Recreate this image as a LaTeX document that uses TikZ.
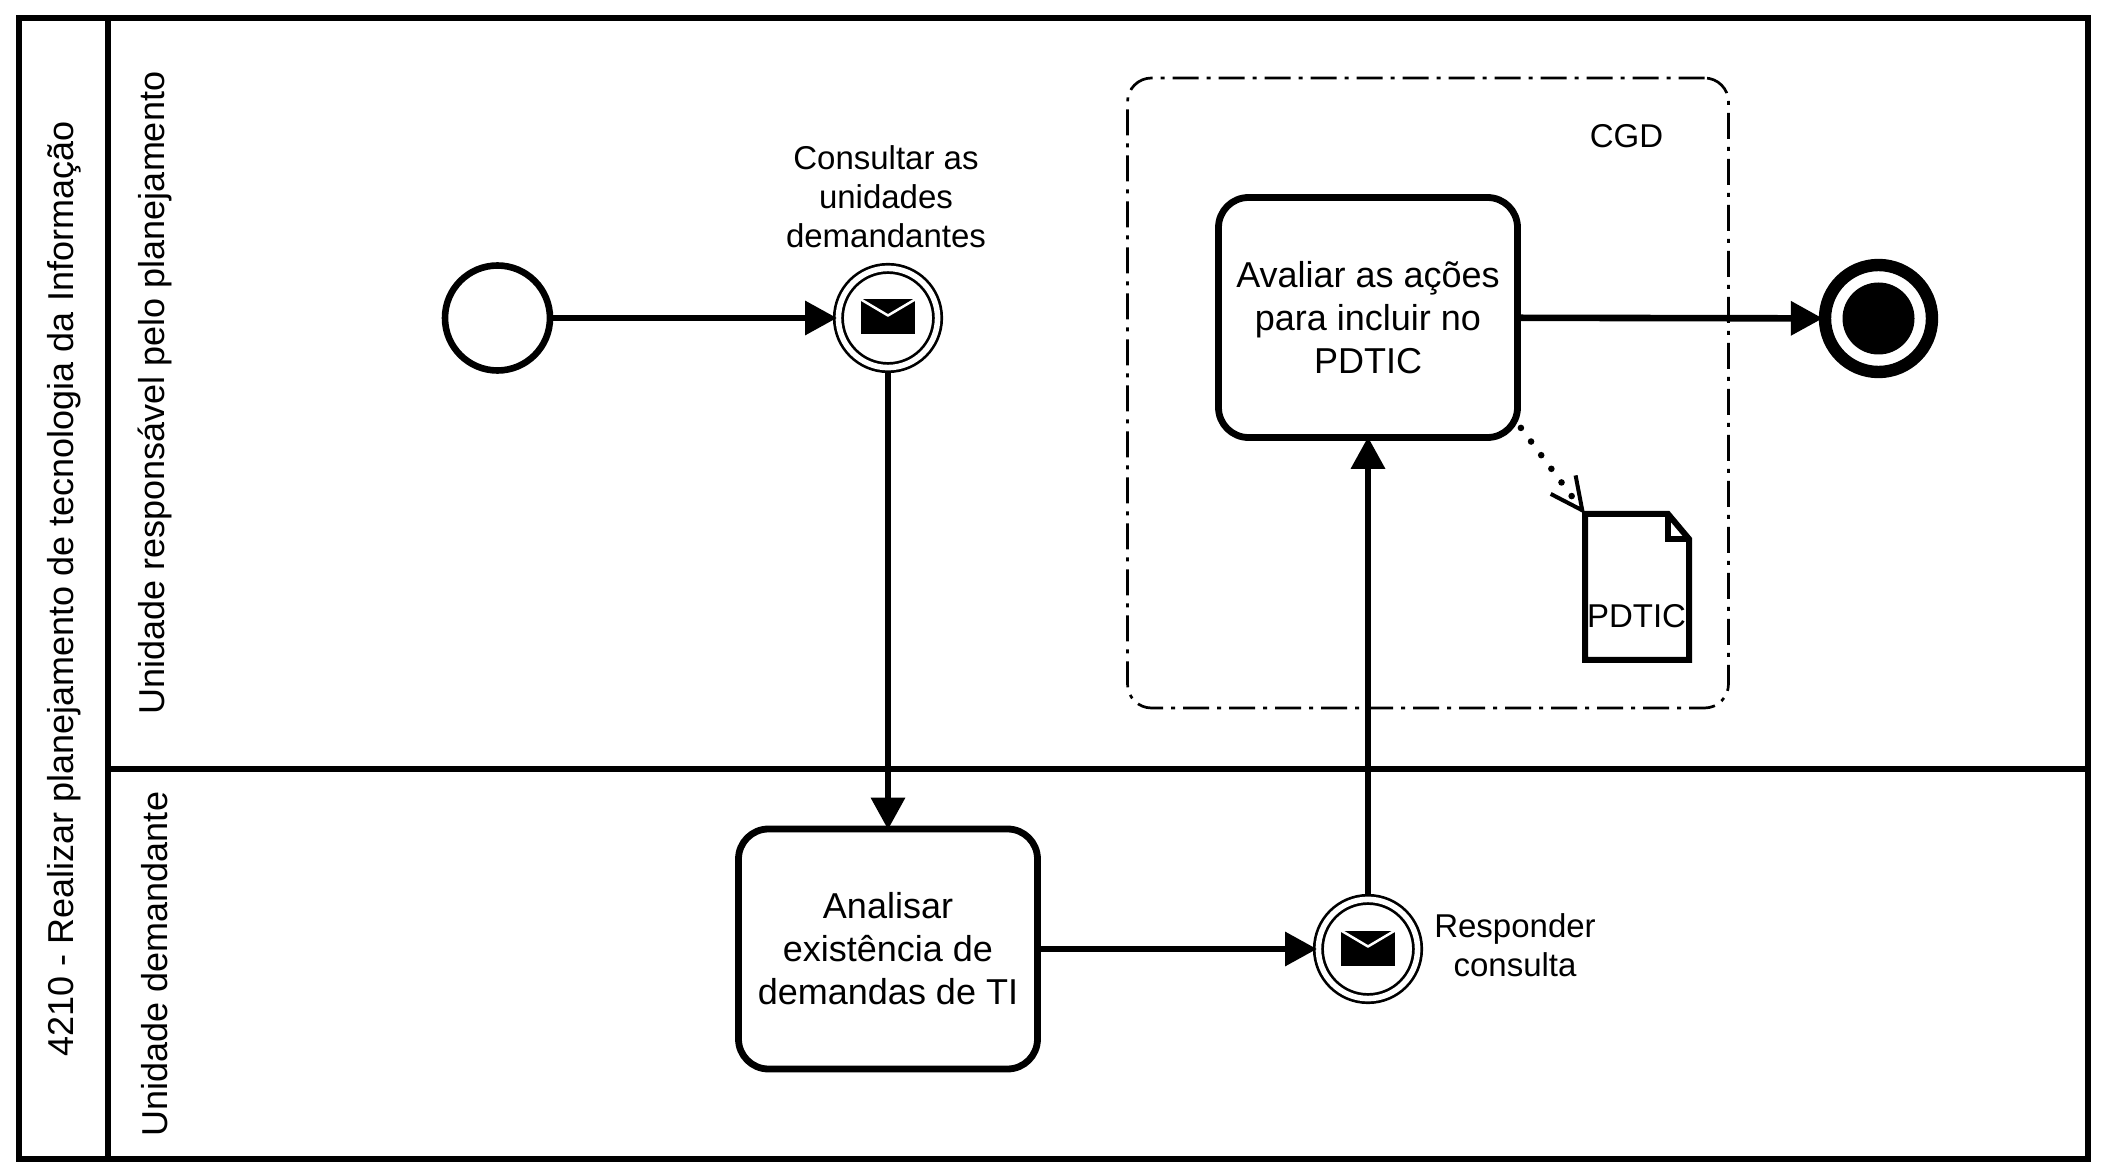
\documentclass[tikz,border=0pt]{standalone}
\usepackage{fontspec}
\setmainfont{Liberation Sans}
\usetikzlibrary{arrows.meta}

\begin{document}
\begin{tikzpicture}[x=0.5pt, y=-0.5pt, line join=round,
    poolline/.style={line width=3.3pt, line join=miter},
    lanetext/.style={rotate=90, font=\fontsize{18}{21.5}\selectfont},
    tasktext/.style={draw, fill=white, line width=3.4pt, rounded corners=15pt,
      minimum width=149.5pt, minimum height=120pt, inner sep=0pt, align=center,
      font=\fontsize{18}{21.5}\selectfont},
    smalltext/.style={inner sep=0pt, align=center, font=\fontsize{16.5}{19.5}\selectfont},
    startev/.style={draw, circle, fill=white, line width=3.3pt, minimum size=52.5pt, inner sep=0pt},
    mailev/.style={draw, circle, fill=white, line width=1.35pt, double, double distance=2.8pt,
      minimum size=49.6pt, inner sep=0pt, outer sep=2.7pt},
    endev/.style={draw, circle, fill=white, line width=6.2pt, minimum size=53.5pt, inner sep=0pt},
    mailicon/.style={fill=black, minimum width=27pt, minimum height=17.5pt, inner sep=0pt, outer sep=0pt},
    flow/.style={line width=3.3pt, shorten >=-2pt, -{Triangle[length=16pt, width=16.5pt]}},
    assoc/.style={line width=3.3pt, line cap=round, dash pattern=on 0pt off 8.5pt,
      -{Straight Barb[length=16pt, width=15.5pt, line width=2pt]}}]

  \useasboundingbox (0,0) rectangle (2106,1176);

  % Draw pool and lanes
  \draw[poolline] (19,18) rectangle (2088,1159);
  \draw[poolline] (108,18) -- (108,1159);
  \draw[poolline] (108,769) -- (2088,769);
  \node[lanetext] (poolname) at (64,589) {4210 - Realizar planejamento de tecnologia da Informação};
  \node[lanetext] (laneplan) at (155,393) {Unidade responsável pelo planejamento};
  \node[lanetext] (lanedem) at (155,964) {Unidade demandante};

  % Draw the CGD group
  \node[draw, line width=1.35pt, rounded corners=12pt, dash pattern=on 13pt off 4pt on 2pt off 4pt,
    minimum width=300.5pt, minimum height=315pt] (cgdbox) at (1428,393) {};
  \node[smalltext] (cgdname) at (1626.5,136.5) {CGD};

  % Draw events
  \node[startev] (inicio) at (497.5,318) {};
  \node[mailev] (consulta) at (888,318) {};
  \node[mailev] (resposta) at (1368,949) {};
  \node[endev] (fim) at (1878.5,318.5) {};
  \node[circle, fill=black, minimum size=36pt, inner sep=0pt] (fimcore) at (fim) {};

  % Mail icons
  \node[mailicon] (iconconsulta) at (888,317) {};
  \node[mailicon] (iconresposta) at (1368,948) {};
  \foreach \icon in {iconconsulta,iconresposta}
    \draw[white, line width=1.25pt] (\icon.north west) -- ([yshift=-8pt]\icon.north) -- (\icon.north east);

  % Draw tasks
  \node[tasktext] (analisar) at (888,949) {Analisar\\existência de\\demandas de TI};
  \node[tasktext] (avaliar) at (1368,317.5) {Avaliar as ações\\para incluir no\\PDTIC};

  % Draw the document
  \node[minimum width=52pt, minimum height=73pt, inner sep=0pt, outer sep=0pt] (doc) at (1637,587) {};
  \draw[line width=3pt, line join=miter, fill=white] (doc.north west) -- ([xshift=-10.5pt]doc.north east)
    -- ([yshift=-12.5pt]doc.north east) -- (doc.south east) -- (doc.south west) -- cycle;
  \draw[line width=3pt, line join=miter] ([xshift=-10.5pt]doc.north east)
    -- ([xshift=-10.5pt, yshift=-12.5pt]doc.north east) -- ([yshift=-12.5pt]doc.north east);
  \node[smalltext] (docname) at (1636.5,616) {PDTIC};

  % Labels
  \node[smalltext] (consultalabel) at (886,196.5) {Consultar as\\unidades\\demandantes};
  \node[smalltext] (respostalabel) at (1515,945) {Responder\\consulta};

  % Draw connectors
  \draw[flow] (inicio) -- (consulta);
  \draw[flow] (consulta) -- (analisar);
  \draw[flow] (analisar) -- (resposta);
  \draw[flow] (resposta) -- (avaliar);
  \draw[flow] (avaliar) -- (fim);
  \draw[assoc] ([yshift=6.5pt]avaliar.south east) -- (doc.north west);

\end{tikzpicture}
\end{document}
